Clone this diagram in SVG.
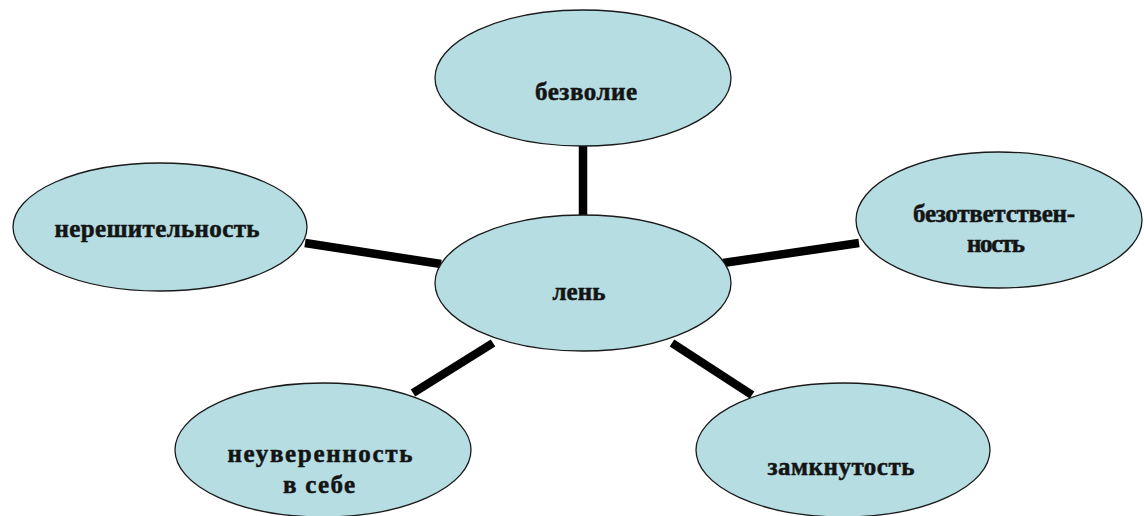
<svg xmlns="http://www.w3.org/2000/svg" width="1144" height="516" viewBox="0 0 1144 516">
<style>
.n{fill:#b5dde2;stroke:#1a1a1a;stroke-width:1.3}
.t{font-family:"Liberation Serif","DejaVu Serif",serif;font-weight:bold;font-size:25px;fill:#141414;stroke:#141414;stroke-width:0.5;text-anchor:middle}
.c line{stroke:#000;stroke-width:8.5}
</style>
<rect width="1144" height="516" fill="#fff"/>
<g class="c" id="connectors">
<line x1="583" y1="146" x2="583" y2="216"/>
<line x1="305" y1="243" x2="441" y2="264"/>
<line x1="723" y1="263" x2="859" y2="243"/>
<line x1="413" y1="393" x2="493" y2="343"/>
<line x1="672" y1="343" x2="752" y2="395"/>
</g>
<g id="node-bezvolie"><ellipse class="n" cx="583" cy="78" rx="148" ry="68"/><text class="t" x="586" y="100" textLength="102" lengthAdjust="spacing">безволие</text></g>
<g id="node-len"><ellipse class="n" cx="583" cy="283" rx="148" ry="68"/><text class="t" x="579" y="300" textLength="53" lengthAdjust="spacing">лень</text></g>
<g id="node-nereshitelnost"><ellipse class="n" cx="160" cy="227" rx="147" ry="64"/><text class="t" x="157" y="237" textLength="205" lengthAdjust="spacing">нерешительность</text></g>
<g id="node-bezotvetstvennost"><ellipse class="n" cx="999" cy="220" rx="143" ry="68"/><text class="t" x="994" y="222" textLength="162" lengthAdjust="spacing">безответствен-</text><text class="t" x="996" y="252" textLength="58" lengthAdjust="spacing">ность</text></g>
<g id="node-neuverennost"><ellipse class="n" cx="323" cy="450" rx="148" ry="67"/><text class="t" x="320" y="462" textLength="185" lengthAdjust="spacing">неуверенность</text><text class="t" x="319" y="493" textLength="72" lengthAdjust="spacing">в себе</text></g>
<g id="node-zamknutost"><ellipse class="n" cx="843" cy="450" rx="147" ry="67"/><text class="t" x="841" y="475" textLength="147" lengthAdjust="spacing">замкнутость</text></g>
</svg>
